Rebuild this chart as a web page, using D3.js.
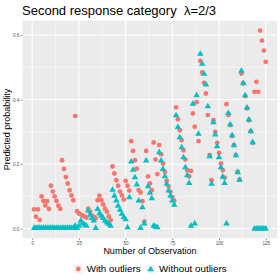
<!DOCTYPE html>
<html>
<head>
<meta charset="utf-8">
<script src="https://cdn.jsdelivr.net/npm/d3@7"></script>
<style>
  body { margin: 0; background: #ffffff; }
  text { font-family: "Liberation Sans", Arial, sans-serif; }
</style>
</head>
<body>
<div class="chart"></div>
<script>
'use strict';

// predicted probability, second response category, per observation (1..125)
const withOutliers = [
  0.060, 0.037, 0.060, 0.027, 0.100, 0.086, 0.072, 0.085, 0.061, 0.133,
  0.115, 0.100, 0.086, 0.071, 0.061, 0.212, 0.185, 0.160, 0.140, 0.119,
  0.103, 0.088, 0.349, 0.054, 0.047, 0.044, 0.040, 0.038, 0.034, 0.062,
  0.052, 0.040, 0.036, 0.032, 0.088, 0.102, 0.088, 0.075, 0.062, 0.052,
  0.038, 0.026, 0.193, 0.171, 0.150, 0.133, 0.115, 0.103, 0.090, 0.148,
  0.133, 0.118, 0.271, 0.241, 0.212, 0.186, 0.119, 0.112, 0.085, 0.022,
  0.241, 0.162, 0.140, 0.119, 0.267, 0.214, 0.169, 0.259, 0.231, 0.202,
  0.176, 0.148, 0.131, 0.114, 0.098, 0.087, 0.376, 0.339, 0.305, 0.274,
  0.243, 0.214, 0.181, 0.162, 0.179, 0.357, 0.316, 0.392, 0.271, 0.520,
  0.484, 0.452, 0.419, 0.352, 0.228, 0.150, 0.336, 0.300, 0.266, 0.235,
  0.202, 0.181, 0.158, 0.386, 0.352, 0.321, 0.287, 0.259, 0.228, 0.176,
  0.152, 0.481, 0.450, 0.411, 0.373, 0.336, 0.302, 0.266, 0.424, 0.455,
  0.424, 0.614, 0.583, 0.552, 0.517
];

const withoutOutliers = [
  0.003, 0.003, 0.003, 0.003, 0.003, 0.003, 0.003, 0.003, 0.003, 0.003,
  0.003, 0.003, 0.003, 0.003, 0.003, 0.003, 0.003, 0.003, 0.003, 0.003,
  0.003, 0.003, 0.010, 0.003, 0.010, 0.026, 0.018, 0.014, 0.010, 0.057,
  0.044, 0.034, 0.026, 0.003, 0.062, 0.048, 0.041, 0.034, 0.026, 0.020,
  0.015, 0.010, 0.121, 0.103, 0.088, 0.072, 0.059, 0.047, 0.037, 0.030,
  0.005, 0.098, 0.209, 0.183, 0.160, 0.138, 0.088, 0.003, 0.067, 0.017,
  0.212, 0.132, 0.112, 0.095, 0.010, 0.007, 0.005, 0.238, 0.212, 0.186,
  0.163, 0.140, 0.119, 0.103, 0.088, 0.075, 0.352, 0.316, 0.284, 0.253,
  0.222, 0.191, 0.166, 0.142, 0.010, 0.388, 0.017, 0.414, 0.295, 0.543,
  0.512, 0.481, 0.448, 0.380, 0.225, 0.140, 0.331, 0.293, 0.256, 0.222,
  0.191, 0.162, 0.142, 0.017, 0.359, 0.324, 0.290, 0.259, 0.228, 0.176,
  0.152, 0.490, 0.452, 0.414, 0.376, 0.339, 0.303, 0.269, 0.001, 0.001,
  0.001, 0.001, 0.001, 0.001, 0.001
];

const seriesNames = ["With outliers", "Without outliers"];
const seriesColors = ["#F8766D", "#00BFC4"];
const xTicks = [0, 25, 50, 75, 100, 125];
const yTicks = [0, 0.2, 0.4, 0.6];

(function() {

    let svgContainer = "";
    const panel = { left: 22.5, right: 277.3, top: 20.7, bottom: 238.2 };

    window.onload = function() {
        svgContainer = d3.select('.chart')
                        .append('svg').attr('width', 280).attr('height', 280);
        svgContainer.append('rect')
          .attr('width', 280).attr('height', 280).attr('fill', '#ffffff');

        let data = [];
        withOutliers.forEach((v, i) => data.push({ obs: i + 1, p: v, s: 0 }));
        withoutOutliers.forEach((v, i) => data.push({ obs: i + 1, p: v, s: 1 }));

        let map = drawAxes(data);
        plotGraph(data, map);
        makeLabels();
        makeLegend();
    }

    function expand(ext) {
        let pad = (ext[1] - ext[0]) * 0.05;
        return [ext[0] - pad, ext[1] + pad];
    }

    function drawAxes(data) {
        let xScale = d3.scaleLinear()
          .domain(expand(d3.extent(data, d => d.obs)))
          .range([panel.left, panel.right]);

        let yScale = d3.scaleLinear()
          .domain(expand(d3.extent(data, d => d.p)))
          .range([panel.bottom, panel.top]);

        svgContainer.append('rect')
          .attr('x', panel.left).attr('y', panel.top)
          .attr('width', panel.right - panel.left)
          .attr('height', panel.bottom - panel.top)
          .attr('fill', '#EBEBEB');

        let xMinor = xTicks.map(t => t + 12.5).concat([-12.5])
          .filter(t => xScale(t) > panel.left && xScale(t) < panel.right);
        let yMinor = yTicks.map(t => t + 0.1)
          .filter(t => yScale(t) > panel.top && yScale(t) < panel.bottom);

        let grid = svgContainer.append('g');
        grid.selectAll('.xminor').data(xMinor).enter().append('line')
          .attr('x1', d => xScale(d)).attr('x2', d => xScale(d))
          .attr('y1', panel.top).attr('y2', panel.bottom)
          .attr('stroke', '#ffffff').attr('stroke-width', 0.5);
        grid.selectAll('.yminor').data(yMinor).enter().append('line')
          .attr('y1', d => yScale(d)).attr('y2', d => yScale(d))
          .attr('x1', panel.left).attr('x2', panel.right)
          .attr('stroke', '#ffffff').attr('stroke-width', 0.5);
        grid.selectAll('.xmajor').data(xTicks).enter().append('line')
          .attr('x1', d => xScale(d)).attr('x2', d => xScale(d))
          .attr('y1', panel.top).attr('y2', panel.bottom)
          .attr('stroke', '#ffffff').attr('stroke-width', 1);
        grid.selectAll('.ymajor').data(yTicks).enter().append('line')
          .attr('y1', d => yScale(d)).attr('y2', d => yScale(d))
          .attr('x1', panel.left).attr('x2', panel.right)
          .attr('stroke', '#ffffff').attr('stroke-width', 1);

        let xAxis = d3.axisBottom(xScale).tickValues(xTicks)
          .tickSize(2).tickPadding(1.2).tickFormat(d3.format('d'));
        let gx = svgContainer.append('g')
          .attr('transform', `translate(0, ${panel.bottom})`)
          .call(xAxis);

        let yAxis = d3.axisLeft(yScale).tickValues(yTicks)
          .tickSize(2).tickPadding(1.2).tickFormat(d3.format('.1f'));
        let gy = svgContainer.append('g')
          .attr('transform', `translate(${panel.left}, 0)`)
          .call(yAxis);

        [gx, gy].forEach(g => {
            g.select('.domain').remove();
            g.selectAll('line').attr('stroke', '#333333').attr('stroke-width', 0.5);
            g.selectAll('text')
              .attr('fill', '#4D4D4D')
              .style('font-size', '4.6px')
              .style('font-family', '"Liberation Sans", Arial, sans-serif');
        });

        return { x: xScale, y: yScale };
    }

    function plotGraph(data, map) {
        let tri = d3.symbol().type(d3.symbolTriangle).size(18);

        svgContainer.append('g').selectAll('circle')
          .data(data.filter(d => d.s == 0))
          .enter()
          .append('circle')
            .attr('cx', d => map.x(d.obs))
            .attr('cy', d => map.y(d.p))
            .attr('r', 2.4)
            .attr('fill', seriesColors[0]);

        svgContainer.append('g').selectAll('path')
          .data(data.filter(d => d.s == 1))
          .enter()
          .append('path')
            .attr('d', tri)
            .attr('transform', d => `translate(${map.x(d.obs)}, ${map.y(d.p) + 0.4})`)
            .attr('fill', seriesColors[1]);
    }

    function makeLabels() {
        svgContainer.append('text')
          .attr('x', 22)
          .attr('y', 15)
          .style('font-size', '13px')
          .style('white-space', 'pre')
          .attr('xml:space', 'preserve')
          .attr('fill', '#000000')
          .text('Second response category  \u03BB=2/3');

        svgContainer.append('text')
          .attr('x', (panel.left + panel.right) / 2)
          .attr('y', 254)
          .attr('text-anchor', 'middle')
          .style('font-size', '9px')
          .attr('fill', '#000000')
          .text('Number of Observation');

        svgContainer.append('text')
          .attr('transform', `translate(10, ${(panel.top + panel.bottom) / 2})rotate(-90)`)
          .attr('text-anchor', 'middle')
          .style('font-size', '9px')
          .attr('fill', '#000000')
          .text('Predicted probability');
    }

    function makeLegend() {
        let keyX = [78.3, 150.7];
        let cy = 269;
        let tri = d3.symbol().type(d3.symbolTriangle).size(18);

        seriesNames.forEach((name, i) => {
            svgContainer.append('rect')
              .attr('x', keyX[i] - 4.3).attr('y', cy - 4.3)
              .attr('width', 8.6).attr('height', 8.6)
              .attr('fill', '#F2F2F2');
            if (i == 0) {
                svgContainer.append('circle')
                  .attr('cx', keyX[i]).attr('cy', cy).attr('r', 2.4)
                  .attr('fill', seriesColors[i]);
            } else {
                svgContainer.append('path')
                  .attr('d', tri)
                  .attr('transform', `translate(${keyX[i]}, ${cy + 0.4})`)
                  .attr('fill', seriesColors[i]);
            }
            svgContainer.append('text')
              .attr('x', keyX[i] + 8.4)
              .attr('y', cy + 3.4)
              .style('font-size', '9.8px')
              .attr('fill', '#000000')
              .text(name);
        });
    }

})();
</script>
</body>
</html>
